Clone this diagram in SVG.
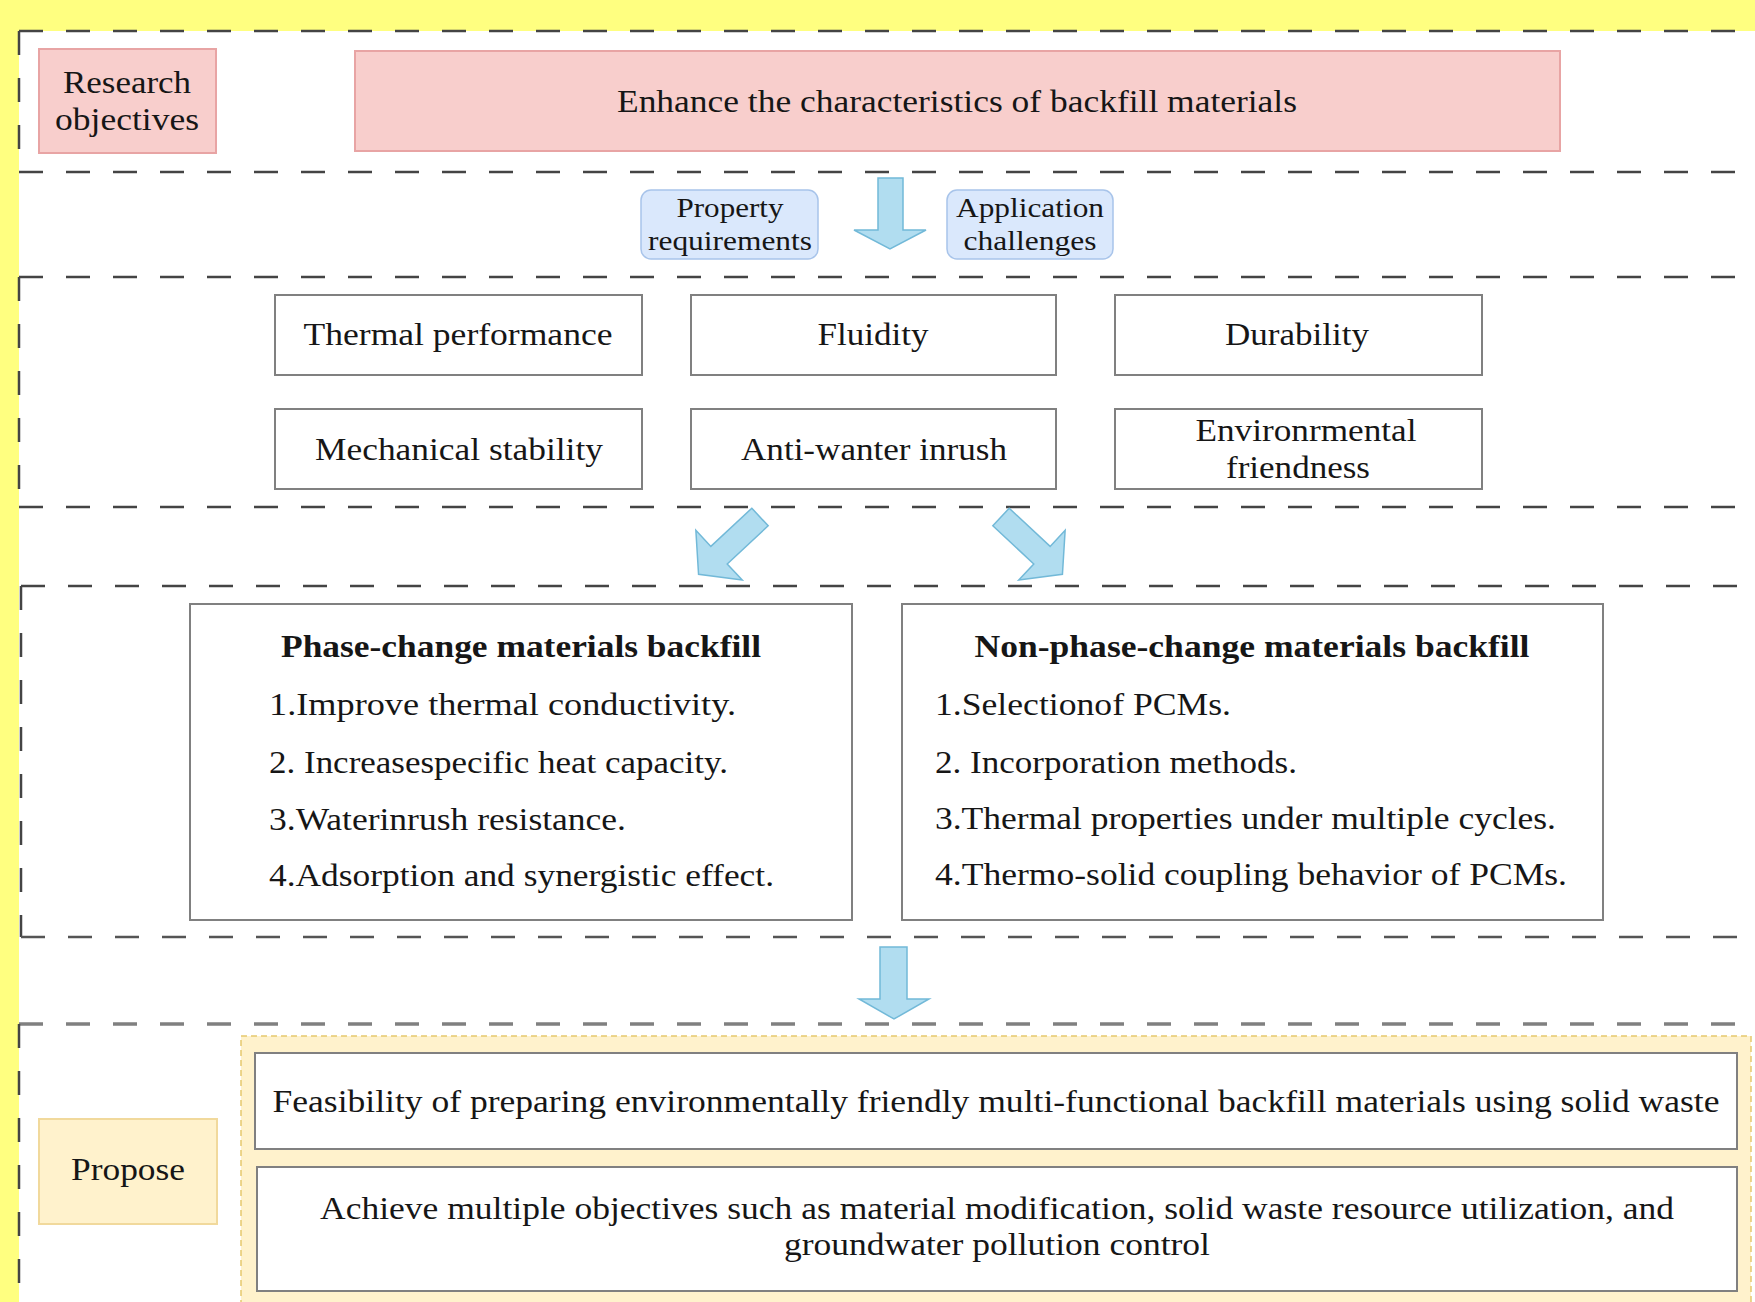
<svg xmlns="http://www.w3.org/2000/svg" width="1755" height="1302" viewBox="0 0 1755 1302">
<style>
.t{font-family:"Liberation Serif","Times New Roman",serif;font-size:31px;fill:#161616}
.m{text-anchor:middle}
.b{font-weight:bold}
.s28{font-size:28px}
.sec{fill:none;stroke:#444;stroke-width:2.5;stroke-dasharray:24 23}
.box{fill:#fff;stroke:#808080;stroke-width:2}
.pink{fill:#f8cecc;stroke:#e8a4a4;stroke-width:2}
.blue{fill:#dae8fc;stroke:#a8c4ea;stroke-width:1.5}
.yel{fill:#fff2cc;stroke:#f1d99c;stroke-width:2}
.arr{fill:#b1ddf0;stroke:#72b9d8;stroke-width:1.5}
</style>
<rect x="0" y="0" width="1755" height="1302" fill="#ffffff"/>
<rect x="0" y="0" width="1755" height="31" fill="#ffff80"/>
<rect x="0" y="0" width="19" height="1302" fill="#ffff80"/>

<g id="sections">
  <path class="sec" d="M19,31 H1755"/>
  <path class="sec" d="M19,31 V172"/>
  <path class="sec" d="M19,172 H1755"/>
  <path class="sec" d="M19,277 H1755"/>
  <path class="sec" d="M19,277 V507"/>
  <path class="sec" d="M19,507 H1755"/>
  <path class="sec" d="M21,586 H1755"/>
  <path class="sec" d="M21,586 V937"/>
  <path class="sec" d="M21,937 H1755" style="stroke:#555"/>
  <path class="sec" d="M19,1024 H1755" style="stroke:#808080;stroke-width:3.5"/>
  <path class="sec" d="M19,1024 V1302"/>
</g>

<g id="research-objectives">
  <rect class="pink" x="39" y="49" width="177" height="104"/>
  <text class="t m" x="127" y="93" textLength="128" lengthAdjust="spacingAndGlyphs">Research</text>
  <text class="t m" x="127" y="130" textLength="144" lengthAdjust="spacingAndGlyphs">objectives</text>
</g>

<g id="enhance">
  <rect class="pink" x="355" y="51" width="1205" height="100"/>
  <text class="t m" x="957" y="112" textLength="680" lengthAdjust="spacingAndGlyphs">Enhance the characteristics of backfill materials</text>
</g>

<g id="property-requirements">
  <rect class="blue" x="641" y="190" width="177" height="69" rx="10"/>
  <text class="t m s28" x="730" y="217" textLength="107" lengthAdjust="spacingAndGlyphs">Property</text>
  <text class="t m s28" x="730" y="250" textLength="164" lengthAdjust="spacingAndGlyphs">requirements</text>
</g>

<g id="application-challenges">
  <rect class="blue" x="947" y="190" width="166" height="69" rx="10"/>
  <text class="t m s28" x="1030" y="217" textLength="148" lengthAdjust="spacingAndGlyphs">Application</text>
  <text class="t m s28" x="1030" y="250" textLength="133" lengthAdjust="spacingAndGlyphs">challenges</text>
</g>

<g id="thermal-performance">
  <rect class="box" x="275" y="295" width="367" height="80"/>
  <text class="t m" x="458" y="345" textLength="309" lengthAdjust="spacingAndGlyphs">Thermal performance</text>
</g>
<g id="fluidity">
  <rect class="box" x="691" y="295" width="365" height="80"/>
  <text class="t m" x="873" y="345" textLength="111" lengthAdjust="spacingAndGlyphs">Fluidity</text>
</g>
<g id="durability">
  <rect class="box" x="1115" y="295" width="367" height="80"/>
  <text class="t m" x="1297" y="345" textLength="144" lengthAdjust="spacingAndGlyphs">Durability</text>
</g>
<g id="mechanical-stability">
  <rect class="box" x="275" y="409" width="367" height="80"/>
  <text class="t m" x="459" y="460" textLength="288" lengthAdjust="spacingAndGlyphs">Mechanical stability</text>
</g>
<g id="anti-water-inrush">
  <rect class="box" x="691" y="409" width="365" height="80"/>
  <text class="t m" x="874" y="460" textLength="266" lengthAdjust="spacingAndGlyphs">Anti-wanter inrush</text>
</g>
<g id="environmental-friendness">
  <rect class="box" x="1115" y="409" width="367" height="80"/>
  <text class="t m" x="1306" y="441" textLength="221" lengthAdjust="spacingAndGlyphs">Environrmental</text>
  <text class="t m" x="1298" y="478" textLength="144" lengthAdjust="spacingAndGlyphs">friendness</text>
</g>

<g id="phase-change">
  <rect class="box" x="190" y="604" width="662" height="316"/>
  <text class="t m b" x="521" y="657" textLength="480" lengthAdjust="spacingAndGlyphs">Phase-change materials backfill</text>
  <text class="t" x="269" y="715" textLength="467" lengthAdjust="spacingAndGlyphs">1.Improve thermal conductivity.</text>
  <text class="t" x="269" y="773" textLength="459" lengthAdjust="spacingAndGlyphs">2. Increasespecific heat capacity.</text>
  <text class="t" x="269" y="830" textLength="357" lengthAdjust="spacingAndGlyphs">3.Waterinrush resistance.</text>
  <text class="t" x="269" y="886" textLength="505" lengthAdjust="spacingAndGlyphs">4.Adsorption and synergistic effect.</text>
</g>

<g id="non-phase-change">
  <rect class="box" x="902" y="604" width="701" height="316"/>
  <text class="t m b" x="1252" y="657" textLength="555" lengthAdjust="spacingAndGlyphs">Non-phase-change materials backfill</text>
  <text class="t" x="935" y="715" textLength="296" lengthAdjust="spacingAndGlyphs">1.Selectionof PCMs.</text>
  <text class="t" x="935" y="773" textLength="362" lengthAdjust="spacingAndGlyphs">2. Incorporation methods.</text>
  <text class="t" x="935" y="829" textLength="621" lengthAdjust="spacingAndGlyphs">3.Thermal properties under multiple cycles.</text>
  <text class="t" x="935" y="885" textLength="632" lengthAdjust="spacingAndGlyphs">4.Thermo-solid coupling behavior of PCMs.</text>
</g>

<g id="propose-container">
  <rect x="241" y="1036" width="1510" height="280" fill="#fff2cc" stroke="#e6c96e" stroke-width="1.5" stroke-dasharray="6 4"/>
</g>

<g id="propose">
  <rect class="yel" x="39" y="1119" width="178" height="105"/>
  <text class="t m" x="128" y="1180" textLength="114" lengthAdjust="spacingAndGlyphs">Propose</text>
</g>

<g id="feasibility">
  <rect class="box" x="255" y="1053" width="1482" height="96"/>
  <text class="t m" x="996" y="1112" textLength="1447" lengthAdjust="spacingAndGlyphs">Feasibility of preparing environmentally friendly multi-functional backfill materials using solid waste</text>
</g>

<g id="achieve">
  <rect class="box" x="257" y="1167" width="1480" height="124"/>
  <text class="t m" x="997" y="1219" textLength="1354" lengthAdjust="spacingAndGlyphs">Achieve multiple objectives such as material modification, solid waste resource utilization, and</text>
  <text class="t m" x="997" y="1255" textLength="426" lengthAdjust="spacingAndGlyphs">groundwater pollution control</text>
</g>

<g id="connectors">
  <polygon class="arr" points="878,178 903,178 903,230 926,230 890,249 854,230 878,230"/>
  <polygon class="arr" transform="translate(760,517) rotate(47)" points="-12,0 12,0 12,56 34,56 0,84 -34,56 -12,56"/>
  <polygon class="arr" transform="translate(1001,517) rotate(-47)" points="-12,0 12,0 12,56 34,56 0,84 -34,56 -12,56"/>
  <polygon class="arr" points="880,947 907,947 907,999 929,999 894,1019 859,999 880,999"/>
</g>
</svg>
